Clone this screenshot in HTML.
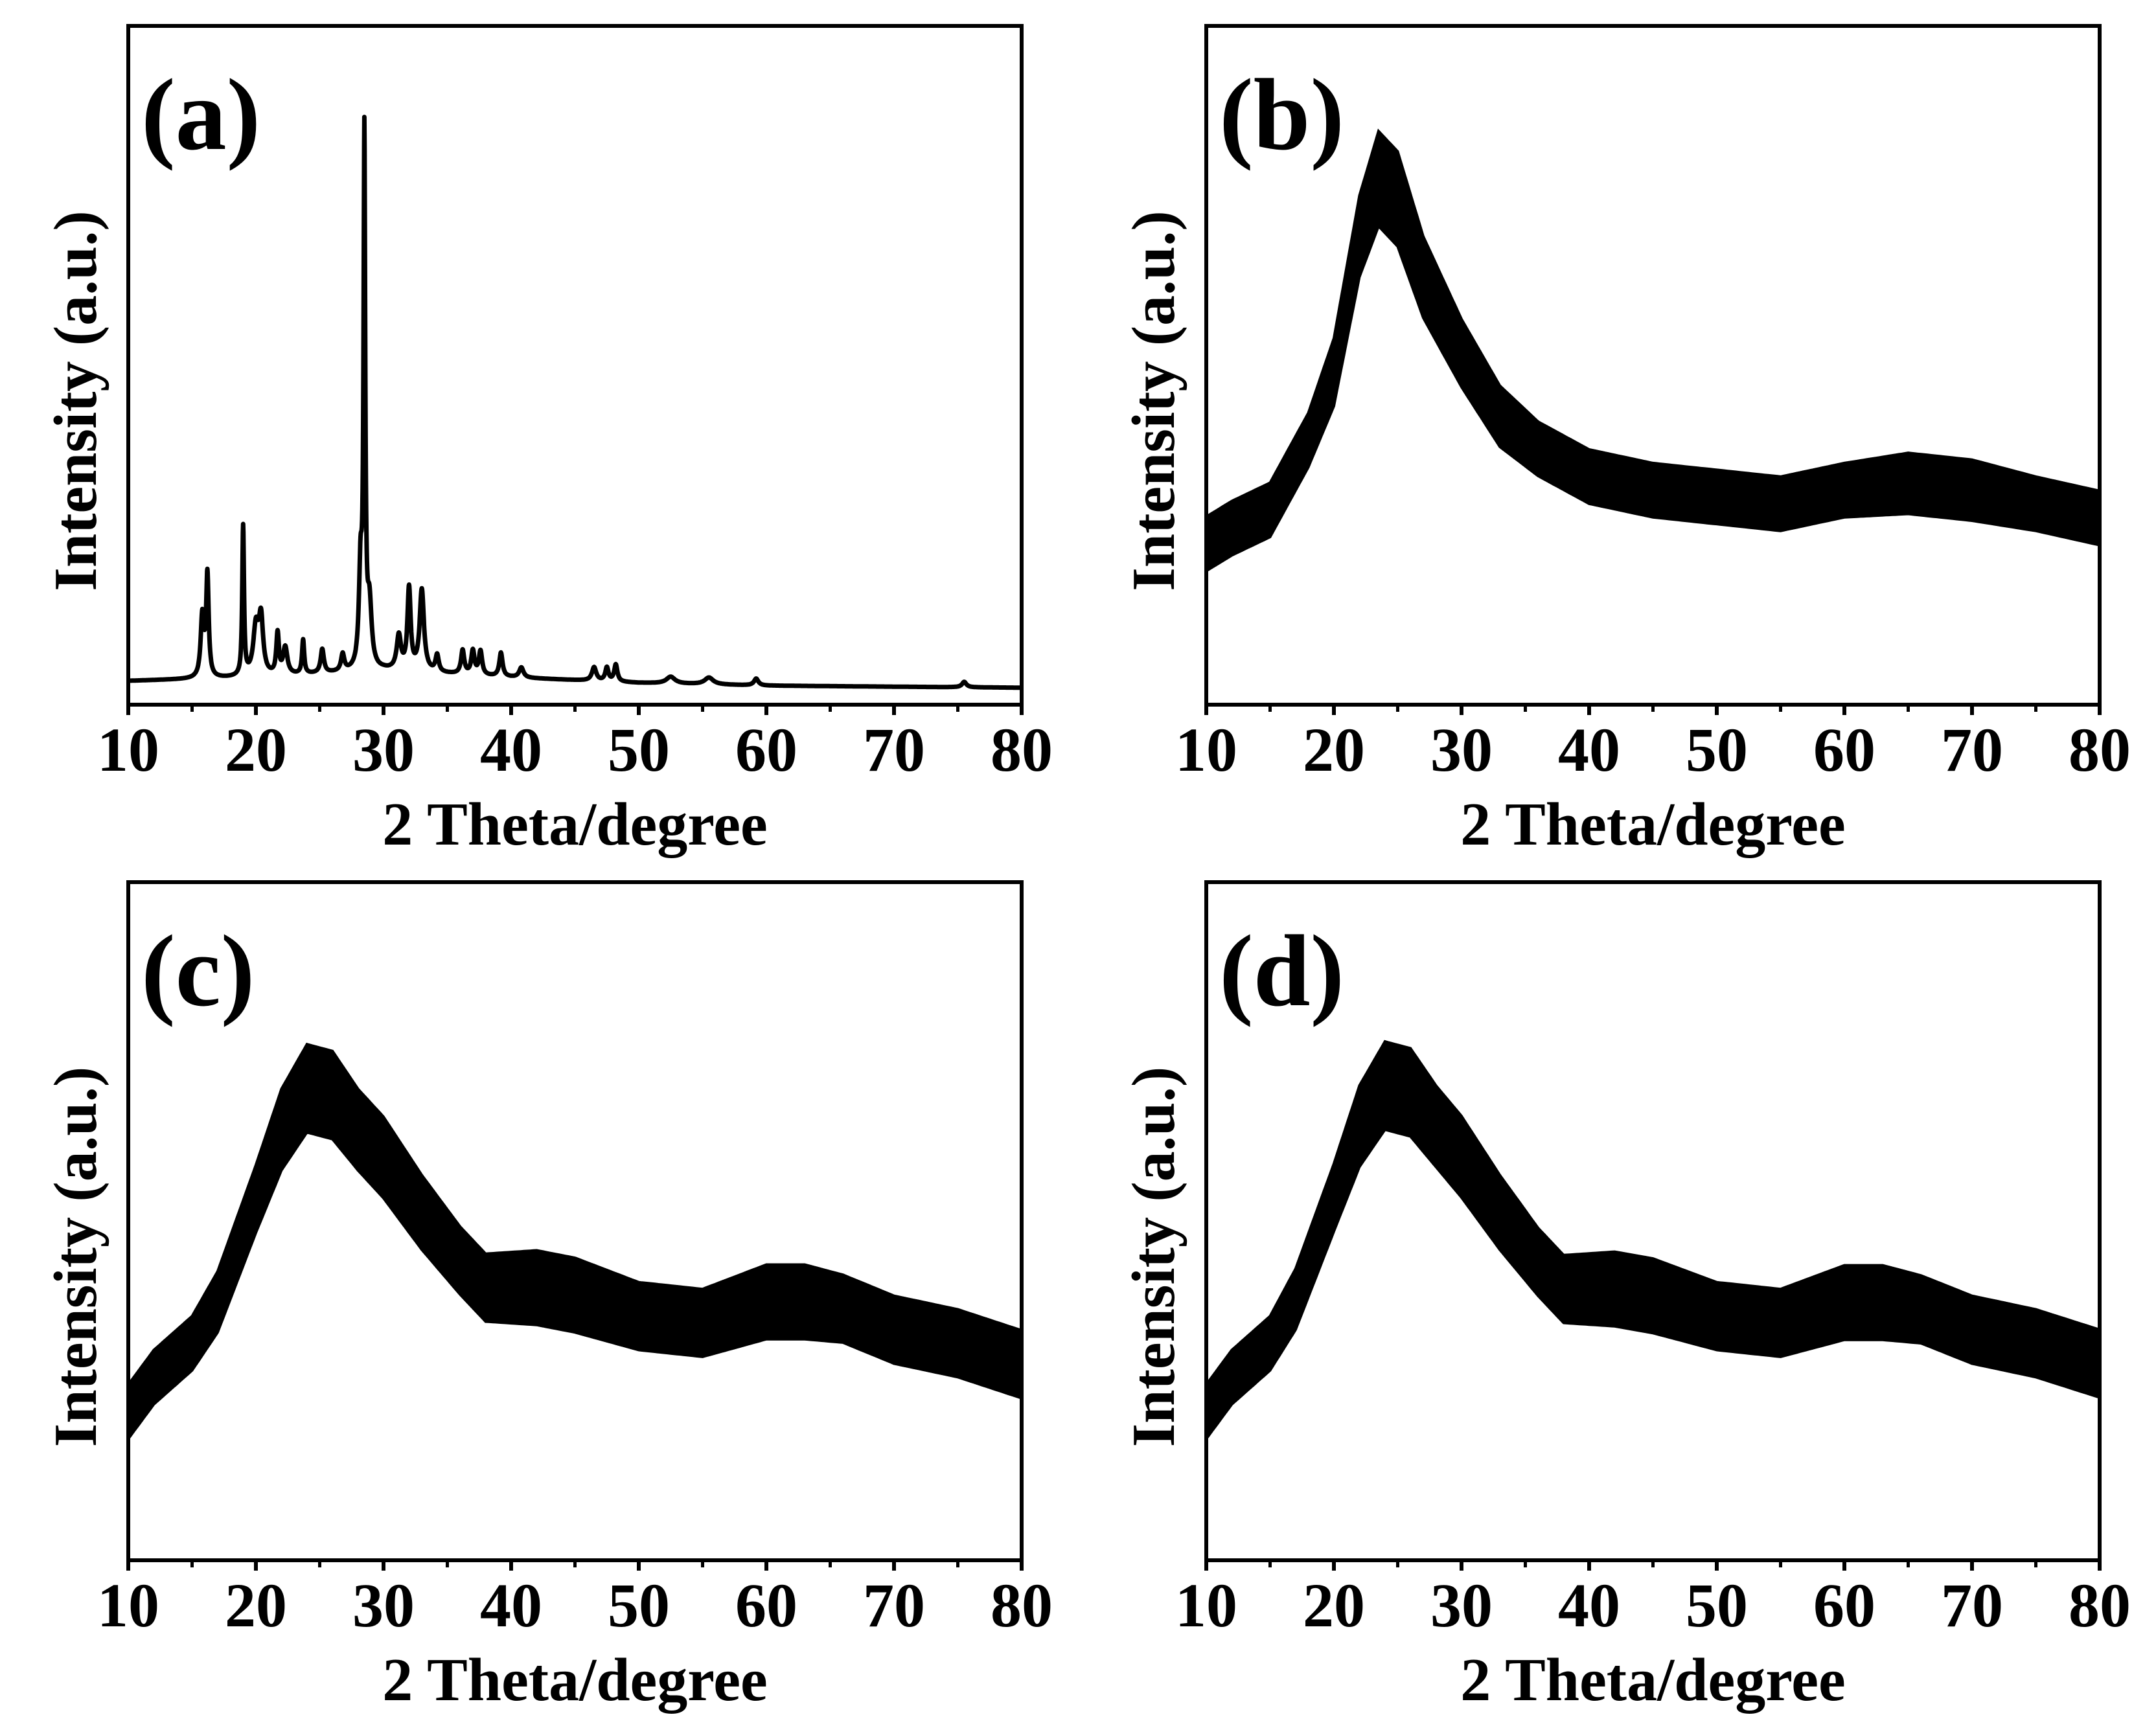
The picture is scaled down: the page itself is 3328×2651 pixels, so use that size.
<!DOCTYPE html>
<html><head><meta charset="utf-8"><style>
html,body{margin:0;padding:0;background:#fff}
svg{display:block}
text{font-family:"Liberation Serif",serif;font-weight:bold;fill:#000}
</style></head><body>
<svg id="fig" width="3328" height="2651" viewBox="0 0 3328 2651" xmlns="http://www.w3.org/2000/svg"></svg>
<script>
// Shared axis data
const xTicks = [10,20,30,40,50,60,70,80];
const xMinorTicks = [15,25,35,45,55,65,75];
// Panel (a): crystalline peaks [position, height %, width]
const aPeakPos = [15.8,16.2,19.0,20.0,20.4,21.7,22.3,23.7,25.2,26.8,28.2,28.5,28.9,31.2,32.0,33.0,34.2,36.2,37.0,37.6,39.2,40.8,46.5,47.5,48.2,52.5,55.5,59.2,75.5];
const aPeakH   = [9,15,22,7,8,6,4,5,3.5,2.5,14,77,9,5,12,12,2.5,3.5,3.5,3.5,3.5,1.5,2,2,2.5,1,1,1,0.8];
const aPeakW   = [0.15,0.12,0.08,0.25,0.2,0.12,0.2,0.1,0.15,0.15,0.15,0.08,0.2,0.2,0.15,0.2,0.15,0.15,0.15,0.15,0.15,0.2,0.2,0.15,0.15,0.4,0.4,0.2,0.2];
const aBaseX = [10,20,30,40,50,60,80];
const aBaseY = [3.5,4,5,4,3.2,2.8,2.5];
// Panel (b) amorphous envelope
const bX = [10,12,15,18,20,22,23.5,25,27,30,33,36,40,45,50,55,60,65,70,75,80];
const bY = [23.7,26,28.7,39,49,69,77.5,74.5,63,51.8,42.5,37.7,33.6,31.6,30.6,29.6,31.6,32.6,31.6,29.6,27.5];
const bNoise = [4,4,4,4,5,6,7,7,6,5,4.5,4,4,4,4,4,4,4.5,4.5,4,4];
// Panel (c)
const cX = [10,12,15,17,20,22,24,26,28,30,33,36,38,42,45,50,55,60,63,66,70,75,80];
const cY = [21.9,27,32,38.1,53.3,63.5,69.6,68.6,63.5,59.4,51.3,44.2,40.2,40.2,39.1,36,35,38.1,38.1,37.1,34,32,28.9];
const cNoise = [4,4,4,4.5,5,6,6.5,6.5,6,6,5.5,5,5,5.5,5.5,5,5,5.5,5.5,5,5,5,5];
// Panel (d)
const dX = [10,12,15,17,20,22,24,26,28,30,33,36,38,42,45,50,55,60,63,66,70,75,80];
const dY = [21.9,27,32,38.5,53.5,64,70,69,64,59.5,51.3,44,40,40,39,36,35,38,38,37,34,32,29];
const dNoise = [4,4,4,4.5,5,6,6.5,6.5,6,6,5.5,5,5,5.5,5.5,5,5,5.5,5.5,5,5,5,5];

const NS="http://www.w3.org/2000/svg";
const svg=document.getElementById('fig');
function mk(tag,attrs,parent){const e=document.createElementNS(NS,tag);for(const k in attrs)e.setAttribute(k,attrs[k]);(parent||svg).appendChild(e);return e;}
function interp(xs,ys,x){if(x<=xs[0])return ys[0];for(let i=1;i<xs.length;i++){if(x<=xs[i]){const t=(x-xs[i-1])/(xs[i]-xs[i-1]);return ys[i-1]+t*(ys[i]-ys[i-1]);}}return ys[ys.length-1];}

const panels=[
 {id:'a',L:198,R:1577,T:40,B:1088},
 {id:'b',L:1862,R:3241,T:40,B:1088},
 {id:'c',L:198,R:1577,T:1362,B:2409},
 {id:'d',L:1862,R:3241,T:1362,B:2409}];

panels.forEach(p=>{
 const g=mk('g',{});
 
 
 const sx=v=>p.L+(v-10)/70*(p.R-p.L);
 const sy=v=>p.B-v/100*(p.B-p.T);
 if(p.id==='a'){
  let d='';
  for(let x=10;x<=80.001;x+=0.02){
   let y=interp(aBaseX,aBaseY,x);
   for(let i=0;i<aPeakPos.length;i++){const u=(x-aPeakPos[i])/aPeakW[i];y+=aPeakH[i]/(1+u*u);}
   d+=(d?'L':'M')+sx(x).toFixed(1)+','+sy(y).toFixed(1);
  }
  const path=mk('path',{d:d,fill:'none',stroke:'#000','stroke-width':7,'stroke-linejoin':'round'},g);
  
  
 } else {
  const X=p.id==='b'?bX:p.id==='c'?cX:dX;
  const Y=p.id==='b'?bY:p.id==='c'?cY:dY;
  const N=p.id==='b'?bNoise:p.id==='c'?cNoise:dNoise;
  let up='',lo=[];
  for(let x=10;x<=80.001;x+=0.25){
   const y=interp(X,Y,x),n=interp(X,N,x);
   up+=(up?'L':'M')+sx(x).toFixed(1)+','+sy(y+n).toFixed(1);
   lo.push(sx(x).toFixed(1)+','+sy(y-n).toFixed(1));
  }
  const band=mk('path',{d:up+'L'+lo.reverse().join('L')+'Z',fill:'#000',stroke:'#000','stroke-width':4},g);
  
  
 }
 const fr=mk('rect',{x:p.L,y:p.T,width:p.R-p.L,height:p.B-p.T,fill:'none',stroke:'#000','stroke-width':6},g);
 
 
 xTicks.forEach(t=>{
  const l=mk('line',{x1:sx(t),x2:sx(t),y1:p.B,y2:p.B+16,stroke:'#000','stroke-width':6},g);
  
  
  const tx=mk('text',{x:sx(t),y:p.B+102,'text-anchor':'middle','font-size':96},g);
  tx.textContent=t;
  
  
 });
 xMinorTicks.forEach(t=>{
  const l=mk('line',{x1:sx(t),x2:sx(t),y1:p.B,y2:p.B+11,stroke:'#000','stroke-width':5},g);
  
  
 });
 const xt=mk('text',{x:(p.L+p.R)/2,y:p.B+216,'text-anchor':'middle','font-size':94},g);
 xt.textContent='2 Theta/degree';
 
 
 const ycx=p.L-82, ycy=(p.T+p.B)/2+55;
 const yt=mk('text',{x:ycx+32,y:ycy,'text-anchor':'middle','font-size':94,transform:`rotate(-90 ${ycx+32} ${ycy})`},g);
 yt.textContent='Intensity (a.u.)';
 
 
 const pl=mk('text',{x:p.L+20,y:p.T+190,'font-size':158},g);
 pl.textContent='('+p.id+')';
 
 
});
</script>
</body></html>
